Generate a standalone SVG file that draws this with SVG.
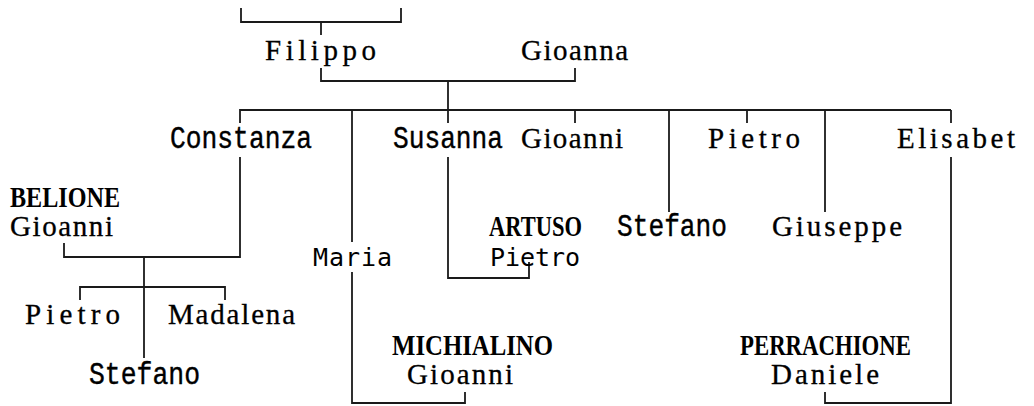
<svg xmlns="http://www.w3.org/2000/svg" width="1034" height="406" viewBox="0 0 1034 406">
<style>
.s{font-family:"Liberation Serif",serif;font-size:29px;fill:#000;stroke:#000;stroke-width:0.3}
.b{font-family:"Liberation Serif",serif;font-size:30px;font-weight:bold;fill:#000}
.m{font-family:"Liberation Mono",monospace;font-size:31px;fill:#000;stroke:#000;stroke-width:0.4}
.d{font-family:"DejaVu Sans Mono",monospace;font-size:25px;fill:#000}
.c{fill:none;stroke:#1a1a1a;stroke-width:1.8}
</style>
<rect width="1034" height="406" fill="#fff"/>
<g id="connectors" class="c">
<path d="M241,8V22H401V8"/>
<path d="M321,22V35"/>
<path d="M321,68V81H575V68"/>
<path d="M448,81V123"/>
<path d="M240,123V110H951"/>
<path d="M352,110V242"/>
<path d="M352,272V403H465V392"/>
<path d="M575,110V123"/>
<path d="M669,110V212"/>
<path d="M747,110V123"/>
<path d="M825,110V212"/>
<path d="M951,110V123"/>
<path d="M951,157V403H825V392"/>
<path d="M448,157V278H529V262"/>
<path d="M240,157V257H64V243"/>
<path d="M144,257V358"/>
<path d="M80,300V287H225V300"/>
</g>
<g id="filippo"><text class="s" x="265" y="60" textLength="111" lengthAdjust="spacing">Filippo</text></g>
<g id="gioanna"><text class="s" x="521" y="60" textLength="107" lengthAdjust="spacing">Gioanna</text></g>
<g id="constanza"><text class="m" x="170" y="148" textLength="142" lengthAdjust="spacingAndGlyphs">Constanza</text></g>
<g id="susanna"><text class="m" x="393" y="148" textLength="110" lengthAdjust="spacingAndGlyphs">Susanna</text></g>
<g id="gioanni-child"><text class="s" x="521" y="148" textLength="102" lengthAdjust="spacing">Gioanni</text></g>
<g id="pietro-child"><text class="s" x="708" y="148" textLength="92" lengthAdjust="spacing">Pietro</text></g>
<g id="elisabet"><text class="s" x="897" y="148" textLength="118" lengthAdjust="spacing">Elisabet</text></g>
<g id="belione"><text class="b" x="10" y="207" textLength="110" lengthAdjust="spacingAndGlyphs">BELIONE</text><text class="s" x="10" y="236" textLength="103" lengthAdjust="spacing">Gioanni</text></g>
<g id="artuso"><text class="b" x="489" y="236" textLength="93" lengthAdjust="spacingAndGlyphs">ARTUSO</text><text class="d" x="490" y="266" textLength="90" lengthAdjust="spacing">Pietro</text></g>
<g id="stefano-child"><text class="m" x="617" y="236" textLength="110" lengthAdjust="spacingAndGlyphs">Stefano</text></g>
<g id="giuseppe"><text class="s" x="772" y="236" textLength="130" lengthAdjust="spacing">Giuseppe</text></g>
<g id="maria"><text class="d" x="313" y="266" textLength="79" lengthAdjust="spacing">Maria</text></g>
<g id="pietro-gc"><text class="s" x="25" y="324" textLength="95" lengthAdjust="spacing">Pietro</text></g>
<g id="madalena"><text class="s" x="168" y="324" textLength="127" lengthAdjust="spacing">Madalena</text></g>
<g id="michialino"><text class="b" x="392" y="355" textLength="161" lengthAdjust="spacingAndGlyphs">MICHIALINO</text><text class="s" x="407" y="384" textLength="106" lengthAdjust="spacing">Gioanni</text></g>
<g id="perrachione"><text class="b" x="740" y="355" textLength="171" lengthAdjust="spacingAndGlyphs">PERRACHIONE</text><text class="s" x="771" y="384" textLength="108" lengthAdjust="spacing">Daniele</text></g>
<g id="stefano-gc"><text class="m" x="89" y="384" textLength="111" lengthAdjust="spacingAndGlyphs">Stefano</text></g>
</svg>
